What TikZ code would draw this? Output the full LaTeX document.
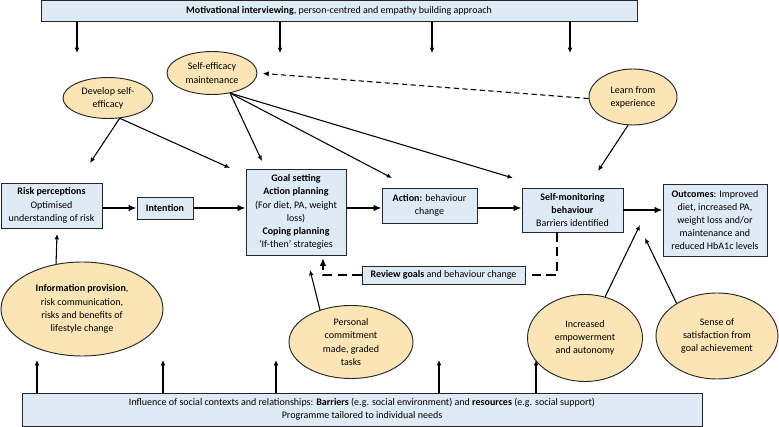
\documentclass[tikz,border=0pt]{standalone}
\usepackage{fontspec}
\setmainfont{Carlito}
\usetikzlibrary{shapes.geometric,arrows.meta}
\definecolor{boxblue}{HTML}{DEEBF7}
\definecolor{bubbleyellow}{HTML}{FBE5B6}
\begin{document}
\begin{tikzpicture}[x=0.75pt,y=-0.75pt,
  box/.style={draw=black!85,fill=boxblue,line width=0.7pt,inner sep=0pt,align=center},
  bubble/.style={ellipse,draw=black!85,fill=bubbleyellow,line width=0.7pt,inner sep=0pt,align=center},
  thinarr/.style={-{Latex[length=4pt,width=3.5pt]},line width=0.8pt},
  thickarr/.style={-{Latex[length=6pt,width=5pt]},line width=1.6pt},
  feedback/.style={line width=1.6pt,dash pattern=on 7pt off 4pt},
  dasharr/.style={-{Latex[length=4.5pt,width=4pt]},line width=0.8pt,dash pattern=on 4pt off 2.5pt}]
\fontsize{7.5}{9.9}\selectfont
\useasboundingbox (0,0) rectangle (779,427);
% top and bottom bands
\node[box,minimum width=447pt,minimum height=15.75pt] (mi) at (339,10.5) {\textbf{Motivational interviewing}, person-centred and empathy building approach};
\node[box,minimum width=510pt,minimum height=24.75pt] (social) at (362,409.5) {Influence of social contexts and relationships: \textbf{Barriers} (e.g. social environment) and \textbf{resources} (e.g. social support)\\Programme tailored to individual needs};
% main chain
\node[box,minimum width=75.75pt,minimum height=33.75pt] (risk) at (51.5,205.5) {\textbf{Risk perceptions}\\Optimised\\understanding of risk};
\node[box,minimum width=42pt,minimum height=16.5pt] (intent) at (165,208) {\textbf{Intention}};
\node[box,minimum width=75pt,minimum height=64.5pt] (goal) at (296,212) {\textbf{Goal setting}\\\textbf{Action planning}\\(For diet, PA, weight\\loss)\\\textbf{Coping planning}\\‘If-then’ strategies};
\node[box,minimum width=71.25pt,minimum height=26.25pt] (action) at (429.5,205.5) {\textbf{Action:} behaviour\\change};
\node[box,minimum width=75.75pt,minimum height=33pt] (selfmon) at (572.5,210) {\textbf{Self-monitoring}\\\textbf{behaviour}\\Barriers identified};
\node[box,minimum width=78pt,minimum height=54pt] (outcomes) at (715,220) {\textbf{Outcomes}: Improved\\diet, increased PA,\\weight loss and/or\\maintenance and\\reduced HbA1c levels};
\node[box,minimum width=122.25pt,minimum height=13.5pt] (review) at (443.5,275) {\textbf{Review goals} and behaviour change};
% ellipses
\node[bubble,minimum width=67.5pt,minimum height=30.75pt] (dse) at (108,98) {Develop self-\\efficacy};
\node[bubble,minimum width=67.5pt,minimum height=32.25pt] (sem) at (212,73) {Self-efficacy\\maintenance};
\node[bubble,minimum width=66pt,minimum height=42pt] (lfe) at (633,97) {Learn from\\experience};
\node[bubble,minimum width=121.5pt,minimum height=70.5pt] (info) at (82,309) {\textbf{Information provision},\\risk communication,\\risks and benefits of\\lifestyle change};
\node[bubble,minimum width=93pt,minimum height=54.75pt] (pc) at (351,342) {Personal\\commitment\\made, graded\\tasks};
\node[bubble,minimum width=86.25pt,minimum height=65.25pt] (ie) at (585,338) {Increased\\empowerment\\and autonomy};
\node[bubble,minimum width=91.5pt,minimum height=64.5pt] (ss) at (717,336) {Sense of\\satisfaction from\\goal achievement};
% free arrow ends
\coordinate (toRisk) at (90,163);
\coordinate (toGoalA) at (230,168);
\coordinate (toGoalB) at (262,161);
\coordinate (toAction) at (392,178);
\coordinate (toMonA) at (513,178);
\coordinate (toMonB) at (598,171);
\coordinate (toRiskB) at (57,234);
\coordinate (toGoalC) at (310,270);
\coordinate (toOutA) at (640,225);
\coordinate (toOutB) at (645,238);
\coordinate (fbend) at (323,258);
% arrows from the bands
\foreach \x [count=\i] in {77,280,432,570} {\coordinate (mi\i) at (\x,53); \draw[thinarr] (mi.south -| mi\i) -- (mi\i);}
\foreach \x [count=\i] in {37,163,276,439,536} {\coordinate (so\i) at (\x,360); \draw[thinarr] (social.north -| so\i) -- (so\i);}
% main flow
\draw[thickarr] (risk.east |- intent) -- (intent.west);
\draw[thickarr] (intent.east) -- (intent.east -| goal.west);
\draw[thickarr] (goal.east |- intent) -- (action.west |- intent);
\draw[thickarr] (action.east |- intent) -- (selfmon.west |- intent);
\draw[thickarr] (selfmon.east) -- (selfmon.east -| outcomes.west);
% self-efficacy links
\draw[thinarr] (dse.-60) -- (toRisk);
\draw[thinarr] (dse.-60) -- (toGoalA);
\draw[thinarr] (sem.-48) -- (toGoalB);
\draw[thinarr] (sem.-48) -- (toAction);
\draw[thinarr] (sem.-48) -- (toMonA);
\draw[thinarr] (lfe.-100) -- (toMonB);
\draw[dasharr,shorten >=4pt] (lfe.182) -- (sem.east);
% lower links
\draw[thinarr] (info.120) -- (toRiskB);
\draw[thinarr] (pc.134) -- (toGoalC);
\draw[thinarr] (ie.64) -- (toOutA);
\draw[thinarr] (ss.141) -- (toOutB);
% review loop
\draw[feedback] (selfmon.south -| 557,0) |- (review.east);
\draw[feedback,-{Latex[length=6pt,width=5pt]}] (review.west) -| (fbend);
\end{tikzpicture}
\end{document}
